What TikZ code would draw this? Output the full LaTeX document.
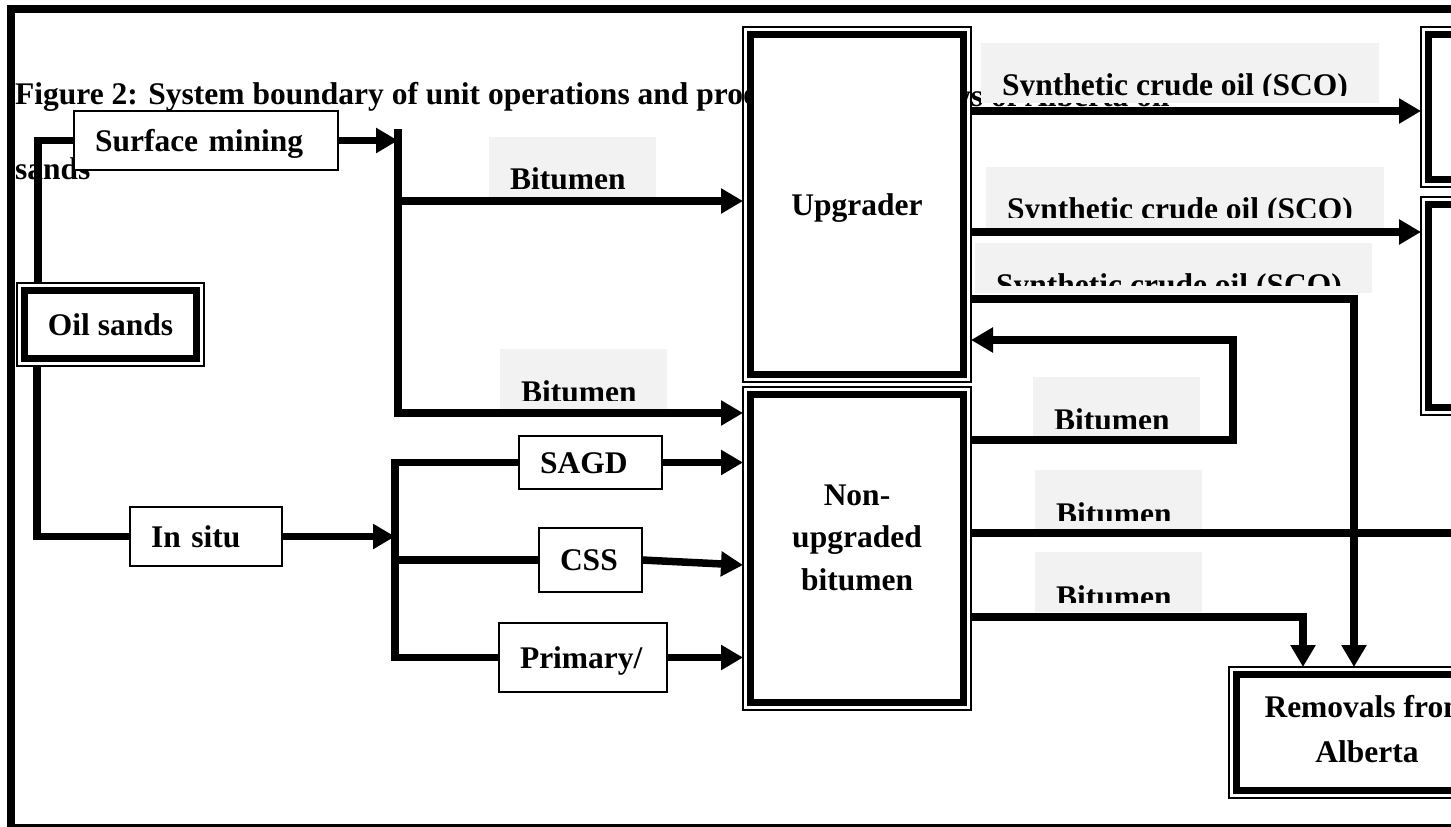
\documentclass[tikz,border=0pt]{standalone}
\usepackage{fontspec}
\setmainfont{Liberation Serif}
\usetikzlibrary{arrows.meta}
\definecolor{lblgray}{HTML}{F2F2F2}
\newcommand\dfont{\fontsize{31.5pt}{42.5pt}\selectfont\bfseries}
\newcommand\glabel[8]{%
  \fill[lblgray] (#2,#3) rectangle (#4,#5);
  \begin{scope}
    \clip (#2,#3) rectangle (#4,#6);
    \node[lbltxt] (#1) at ({#2+21},#7) {#8};
  \end{scope}%
}
\begin{document}
\begin{tikzpicture}[x=1pt,y=-1pt,
  conn/.style={line width=7.5pt},
  arr/.style={-{Triangle[length=22pt,width=24pt]}},
  sbox/.style={draw, line width=1.3pt, fill=white, font=\dfont, inner xsep=21pt, inner ysep=0pt, outer sep=0pt, text height=21pt, text depth=0pt, align=left},
  dbox/.style={draw, line width=7pt, fill=white, font=\dfont, inner sep=0pt, outer sep=7.5pt, text height=21pt, text depth=0pt, align=center},
  dthin/.style={line width=1.3pt},
  lbltxt/.style={font=\dfont, anchor=base west, inner sep=0pt},
  ttl/.style={font=\dfont, anchor=base west, inner sep=0pt},
  mtext/.style={align=center, anchor=base, inner sep=0pt}
]
\useasboundingbox (0,0) rectangle (1451,827);
\clip (0,0) rectangle (1451,827);

% title (partly hidden behind the diagram)
\node[ttl] (t1) at (15,104) {Figure 2: System boundary of unit operations and product};
\node[ttl] (t2) at (913,106) {flows of Alberta oil};
\node[ttl] (t3) at (15,179) {sands};

% frame
\draw[line width=8pt] (11,9) rectangle (1500,828);

% flow labels
\glabel{lbA}{489}{137}{656}{197}{188}{189}{Bitumen}
\glabel{lbB}{500}{349}{667}{409}{400}{402}{Bitumen}
\glabel{scoA}{981}{43}{1379}{103}{95}{95}{Synthetic crude oil (SCO)}
\glabel{scoB}{986}{167}{1384}{228}{217}{219}{Synthetic crude oil (SCO)}
\glabel{scoC}{975}{243}{1372}{293}{285}{295}{Synthetic crude oil (SCO)}
\glabel{lbC}{1033}{377}{1200}{437}{428}{430}{Bitumen}
\glabel{lbD}{1035}{470}{1202}{529}{520}{524}{Bitumen}
\glabel{lbE}{1035}{552}{1202}{612}{602}{607}{Bitumen}

% single-line boxes
\node[sbox, minimum height=59pt, text width=222pt] (surf) at (206,140.5) {Surface mining};
\node[sbox, minimum height=59pt, text width=110pt] (insitu) at (206,536.5) {In situ};
\node[sbox, minimum height=53pt, text width=101pt] (sagd) at (590.5,462.5) {SAGD};
\node[sbox, minimum height=64pt, text width=61pt] (css) at (590.5,560) {CSS};
\node[sbox, minimum height=69pt, text width=126pt] (prim) at (583,657.5) {Primary/};

% double-line boxes
\node[dbox, minimum width=172pt, minimum height=68pt] (oil) at (110.5,324.5) {Oil sands};
\node[dbox, minimum width=213pt, minimum height=340pt] (upg) at (857,204.5) {Upgrader};
\node[dbox, minimum width=213pt, minimum height=308pt] (non) at (857,548.5) {};
\node[dbox, minimum width=261pt, minimum height=116pt] (rem) at (1367,732.5) {};
\node[dbox, minimum width=185pt, minimum height=145pt] (boxA) at (1521,107) {};
\node[dbox, minimum width=185pt, minimum height=203pt] (boxB) at (1521,306) {};
\foreach \n in {oil,upg,non,rem,boxA,boxB} \draw[dthin] (\n.north west) rectangle (\n.south east);

\node[mtext, font=\dfont] (nonT) at (857,590) {Non-\\upgraded\\bitumen};
\node[mtext, font={\fontsize{31.5pt}{45pt}\selectfont\bfseries}] (remT) at (1367,762) {Removals from\\Alberta};

% junction coordinates
\coordinate (oTop) at ([xshift=21pt]oil.north west);
\coordinate (oBot) at ([xshift=20pt]oil.south west);
\coordinate (sBus) at (398,129);
\coordinate (sMid) at (398,201);
\coordinate (sLow) at (398,413);
\coordinate (iBus) at (395,465);
\coordinate (r1) at (1000,111);
\coordinate (r2) at (1000,232);
\coordinate (c3) at (1354,299);
\coordinate (lpB) at (1233,440);
\coordinate (lpT) at (1233,340);
\coordinate (exE) at (1460,533);
\coordinate (rbC) at (1303,617);

% connectors
\draw[conn] (oTop) |- (surf.west);
\draw[conn] (oBot) |- (insitu.west);
\draw[conn,arr] (surf.east) -- (surf.east -| sBus);
\draw[conn,arr] (sBus) -- (sLow) -- (sLow -| non.west);
\draw[conn,arr] (sMid) -- (sMid -| upg.west);
\draw[conn,arr] (insitu.east) -- (insitu.east -| iBus);
\draw[conn] (sagd.west) -- (sagd.west -| iBus) -- (prim.west -| iBus) -- (prim.west);
\draw[conn] (css.west -| iBus) -- (css.west);
\draw[conn,arr] (sagd.east) -- (sagd.east -| non.west);
\draw[conn,arr] (css.east) -- ([yshift=-5pt]css.east -| non.west);
\draw[conn,arr] (prim.east) -- (prim.east -| non.west);
\draw[conn,arr] (upg.east |- r1) -- (boxA.west |- r1);
\draw[conn,arr] (upg.east |- r2) -- (boxB.west |- r2);
\draw[conn,arr] (upg.east |- c3) -- (c3) -- (c3 |- rem.north);
\draw[conn,arr] (non.east |- lpB) -- (lpB) -- (lpT) -- (upg.east |- lpT);
\draw[conn] (non.east |- exE) -- (exE);
\draw[conn,arr] (non.east |- rbC) -- (rbC) -- (rbC |- rem.north);
\end{tikzpicture}
\end{document}
